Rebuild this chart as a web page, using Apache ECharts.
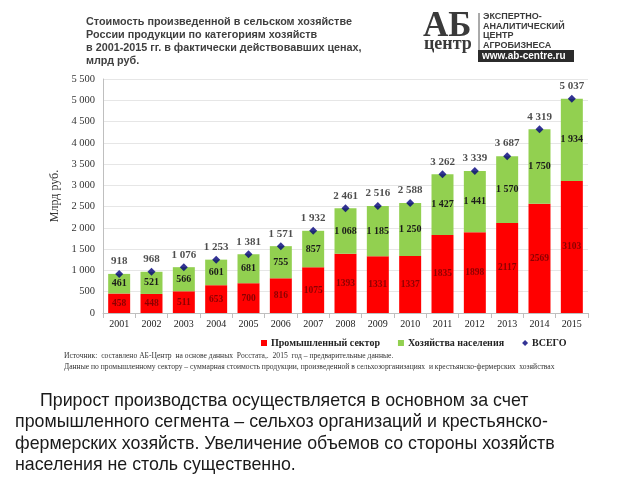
<!DOCTYPE html>
<html><head><meta charset="utf-8">
<script src="https://cdn.jsdelivr.net/npm/echarts@6/dist/echarts.min.js"></script>
<style>html,body{margin:0;padding:0;background:#fff}#c{width:640px;height:480px}</style>
</head><body><div id="c"></div>
<script>
var years = ['2001','2002','2003','2004','2005','2006','2007','2008','2009','2010','2011','2012','2013','2014','2015'];
var industrial = [458,448,511,653,700,816,1075,1393,1331,1337,1835,1898,2117,2569,3103];
var households = [461,521,566,601,681,755,857,1068,1185,1250,1427,1441,1570,1750,1934];
var total = [918,968,1076,1253,1381,1571,1932,2461,2516,2588,3262,3339,3687,4319,5037];
var seriesNames = ['Промышленный сектор','Хозяйства населения','ВСЕГО'];
var titleLines = ['Стоимость произведенной в сельском хозяйстве','России продукции по категориям хозяйств','в 2001-2015 гг. в фактически действовавших ценах,','млрд руб.'];
var sourceLines = ['Источник:  составлено АБ-Центр  на основе данных  Росстата,.  2015  год – предварительные данные.','Данные по промышленному сектору – суммарная стоимость продукции, произведенной в сельхозорганизациях  и крестьянско-фермерских  хозяйствах'];
var paragraph = ['Прирост производства осуществляется в основном за счет','промышленного сегмента – сельхоз организаций и крестьянско-','фермерских хозяйств. Увеличение объемов со стороны хозяйств','населения не столь существенно.'];
var logoLines = ['ЭКСПЕРТНО-','АНАЛИТИЧЕСКИЙ','ЦЕНТР','АГРОБИЗНЕСА'];

function sp(v){ return String(v).replace(/\B(?=(\d{3})+(?!\d))/g,' '); }
var serif = '"Liberation Serif","Times New Roman",serif';
var sans = '"Liberation Sans",Arial,sans-serif';

var chart = echarts.init(document.getElementById('c'));
var graphics = [];
titleLines.forEach(function(t,i){
  graphics.push({type:'text',left:86,top:17+i*12.8,style:{text:t,font:'bold 10.8px '+sans,fill:'#404040'}});
});
// logo
graphics.push({type:'text',left:423,top:9,style:{text:'АБ',font:'bold 35px '+serif,fill:'#3a3a3a'}});
graphics.push({type:'text',left:424,top:35,style:{text:'центр',font:'bold 18px '+serif,fill:'#3a3a3a'}});
graphics.push({type:'line',shape:{x1:479,y1:13,x2:479,y2:51},style:{stroke:'#555',lineWidth:1}});
logoLines.forEach(function(t,i){
  graphics.push({type:'text',left:483,top:12+i*9.7,style:{text:t,font:'bold 9px '+sans,fill:'#3a3a3a'}});
});
graphics.push({type:'rect',shape:{x:478,y:50,width:96,height:12},style:{fill:'#2b2b2b'}});
graphics.push({type:'text',left:482,top:51,style:{text:'www.ab-centre.ru',font:'bold 10px '+sans,fill:'#fff'}});
sourceLines.forEach(function(t,i){
  graphics.push({type:'text',left:64,top:352+i*11,style:{text:t,font:'7.6px '+serif,fill:'#333'}});
});
paragraph.forEach(function(t,i){
  graphics.push({type:'text',left:(i===0?40:15),top:392+i*21.5,style:{text:t,font:'17.8px '+sans,fill:'#1a1a1a'}});
});

chart.setOption({
  animation:false,
  backgroundColor:'#fff',
  graphic:graphics,
  grid:{left:103,right:52,top:79,bottom:167},
  legend:{top:333,left:256,itemGap:18,itemWidth:6,itemHeight:6,
    textStyle:{fontFamily:serif,fontWeight:'bold',fontSize:10,color:'#222',padding:[0,0,0,-1]},
    data:[{name:seriesNames[0],icon:'rect'},{name:seriesNames[1],icon:'rect'},{name:seriesNames[2],icon:'diamond'}]},
  xAxis:{type:'category',data:years,
    axisLine:{lineStyle:{color:'#bfbfbf'}},axisTick:{show:true,lineStyle:{color:'#bfbfbf'}},
    axisLabel:{fontFamily:serif,fontSize:10,color:'#222',margin:6}},
  yAxis:{type:'value',min:0,max:5500,interval:500,
    name:'Млрд руб.',nameLocation:'middle',nameGap:32,nameRotate:90,
    nameTextStyle:{fontFamily:serif,fontSize:12,color:'#333'},
    axisLine:{show:true,lineStyle:{color:'#bfbfbf'}},axisTick:{show:false},
    axisLabel:{fontFamily:serif,fontSize:10.5,color:'#333',margin:8,formatter:function(v){return sp(v);}},
    splitLine:{lineStyle:{color:'#e6e6e6'}}},
  series:[
    {name:seriesNames[0],type:'bar',stack:'s',data:industrial,barCategoryGap:'32%',
     itemStyle:{color:'#ff0000'},
     label:{show:true,position:'inside',fontFamily:serif,fontWeight:'bold',fontSize:9.5,color:'#8b0000'}},
    {name:seriesNames[1],type:'bar',stack:'s',data:households,
     itemStyle:{color:'#92d050'},
     label:{show:true,position:'inside',fontFamily:serif,fontWeight:'bold',fontSize:10,color:'#1a1a1a',
       formatter:function(p){return sp(p.value);}}},
    {name:seriesNames[2],type:'scatter',data:total,symbol:'diamond',symbolSize:8,
     itemStyle:{color:'#00007a'},z:5,
     label:{show:true,position:'top',distance:3,fontFamily:serif,fontWeight:'bold',fontSize:11,color:'#222',
       formatter:function(p){return sp(p.value);}}}
  ]
});
</script></body></html>
